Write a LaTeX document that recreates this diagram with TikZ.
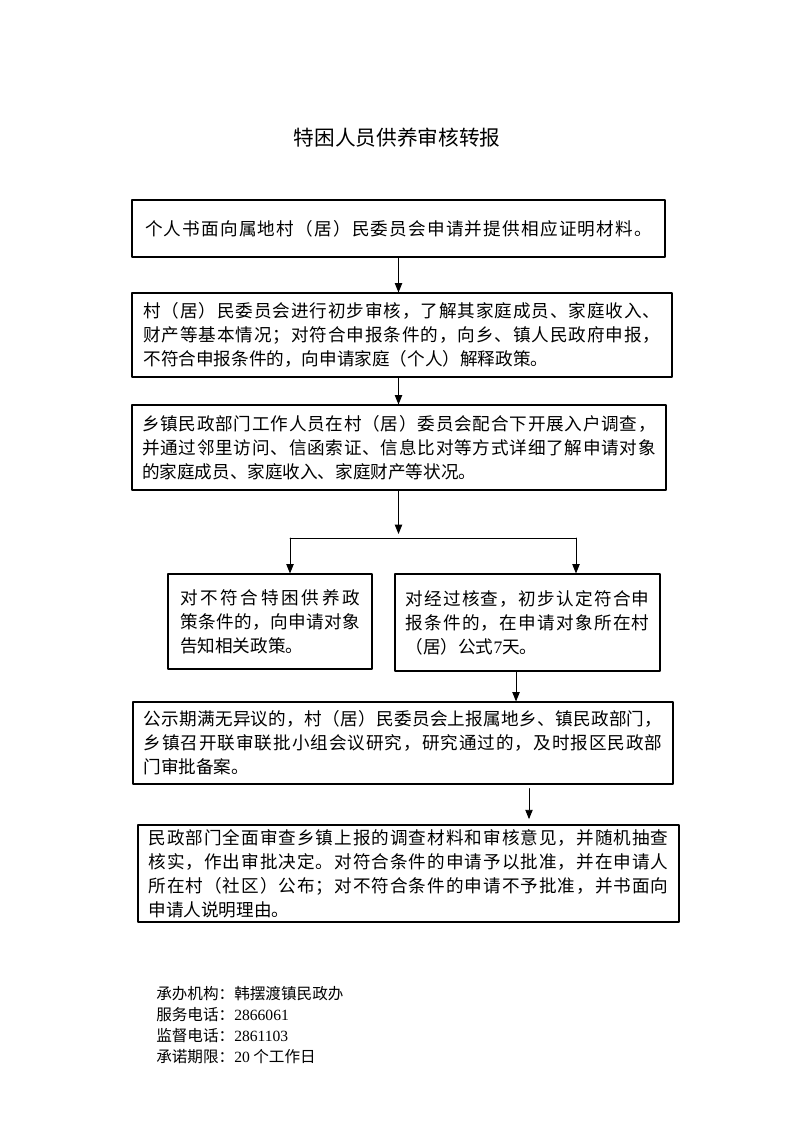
\documentclass[tikz,border=0pt]{standalone}
\usepackage{fontspec}
\setmainfont{Liberation Serif}
\newfontfamily\cjk{Noto Sans CJK SC}
\usetikzlibrary{arrows.meta}
\makeatletter
% spread one line of characters over the full text width
\def\fline#1{\leavevmode\hbox to \linewidth{\fl@#1\@nil\unskip}}
\def\fl@#1{\ifx#1\@nil\else#1\hskip0pt plus 1fil\expandafter\fl@\fi}
\makeatother
\tikzset{
  flowbox/.style={draw, line width=0.8pt, inner sep=0pt, align=left,
    font=\cjk\fontsize{13.2}{18}\selectfont},
  flowarrow/.style={line width=0.7pt, -{Triangle[length=7pt,width=5.5pt]}},
  infotext/.style={anchor=west, inner sep=0pt, font=\cjk\fontsize{11.7}{14}\selectfont}
}

\begin{document}
\begin{tikzpicture}[line cap=round,line join=round, x=0.75pt,y=-0.75pt]
\useasboundingbox (0,0) rectangle (793,1122);
\node[font=\cjk\fontsize{15.5}{18}\selectfont] (title) at (397,138) {特困人员供养审核转报};
% boxes
\node[flowbox, minimum width=399.75pt, minimum height=42.75pt, text width=380.25pt] (apply) at (398.5,228.5)
  {\fline{个人书面向属地村（居）民委员会申请并提供相应证明材料。}};
\node[flowbox, minimum width=405pt, minimum height=63pt, text width=387.75pt] (village) at (402,335)
  {\fline{村（居）民委员会进行初步审核，了解其家庭成员、家庭收入、}\\
   \fline{财产等基本情况；对符合申报条件的，向乡、镇人民政府申报，}\\
   不符合申报条件的，向申请家庭（个人）解释政策。};
\node[flowbox, minimum width=400.5pt, minimum height=63.75pt, text width=385.5pt] (town) at (399,447.5)
  {\fline{乡镇民政部门工作人员在村（居）委员会配合下开展入户调查，}\\
   \fline{并通过邻里访问、信函索证、信息比对等方式详细了解申请对象}\\
   的家庭成员、家庭收入、家庭财产等状况。};
\node[flowbox, minimum width=153pt, minimum height=71.25pt, text width=135pt] (reject) at (270,621.5)
  {\fline{对不符合特困供养政}\\
   \fline{策条件的，向申请对象}\\
   告知相关政策。};
\node[flowbox, minimum width=198.75pt, minimum height=72.75pt, text width=183pt] (publicize) at (527.5,622.5)
  {\fline{对经过核查，初步认定符合申}\\
   \fline{报条件的，在申请对象所在村}\\
   （居）公式{\rmfamily 7}天。};
\node[flowbox, minimum width=405pt, minimum height=61.5pt, text width=389.25pt] (report) at (403,743)
  {\fline{公示期满无异议的，村（居）民委员会上报属地乡、镇民政部门，}\\
   \fline{乡镇召开联审联批小组会议研究，研究通过的，及时报区民政部}\\
   门审批备案。};
\node[flowbox, minimum width=405.75pt, minimum height=72.75pt, text width=390pt] (approve) at (408.5,873.5)
  {\fline{民政部门全面审查乡镇上报的调查材料和审核意见，并随机抽查}\\
   \fline{核实，作出审批决定。对符合条件的申请予以批准，并在申请人}\\
   \fline{所在村（社区）公布；对不符合条件的申请不予批准，并书面向}\\
   申请人说明理由。};
% arrows
\coordinate (fork) at (398.5,538);
\coordinate (forkL) at (290,538);
\coordinate (forkR) at (576,538);
\draw[flowarrow] (apply.south) -- (apply.south |- village.north);
\draw[flowarrow] (village.south -| apply) -- (town.north -| apply);
\draw[flowarrow] (town.south -| fork) -- ([yshift=3pt]fork);
\draw[line width=0.7pt] (forkL) -- (forkR);
\draw[flowarrow] (forkL) -- (forkL |- reject.north);
\draw[flowarrow] (forkR) -- (forkR |- publicize.north);
\draw[flowarrow] ([xshift=-8.6pt]publicize.south) -- ([xshift=-8.6pt]publicize.south |- report.north);
\draw[flowarrow, shorten <=3pt, shorten >=4pt] ([xshift=94.5pt]report.south) -- ([xshift=94.5pt]report.south |- approve.north);
% footer
\node[infotext] (org) at (156,994) {承办机构：韩摆渡镇民政办};
\node[infotext] (service) at (156,1015) {服务电话：{\rmfamily 2866061}};
\node[infotext] (supervise) at (156,1036) {监督电话：{\rmfamily 2861103}};
\node[infotext] (limit) at (156,1057) {承诺期限：{\rmfamily 20} 个工作日};
\end{tikzpicture}
\end{document}
